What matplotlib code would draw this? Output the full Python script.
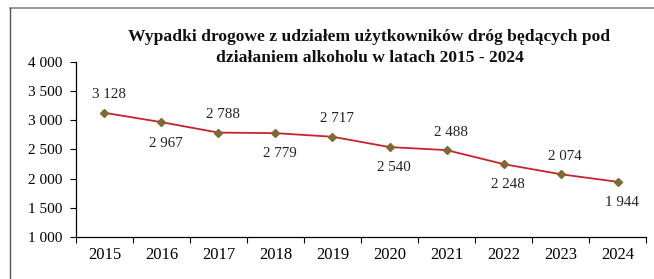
import matplotlib.pyplot as plt
from matplotlib.lines import Line2D
from matplotlib.ticker import FuncFormatter, FixedLocator

years = ['2015', '2016', '2017', '2018', '2019', '2020', '2021', '2022', '2023', '2024']
accidents = [3128, 2967, 2788, 2779, 2717, 2540, 2488, 2248, 2074, 1944]
y_ticks = [1000, 1500, 2000, 2500, 3000, 3500, 4000]

title = ('Wypadki drogowe z udziałem użytkowników dróg będących pod\n'
         'działaniem alkoholu w latach 2015 - 2024')


def fmt(v):
    return '{:,}'.format(int(v)).replace(',', ' ')


plt.rcParams['font.family'] = ['Liberation Serif', 'DejaVu Serif']

fig = plt.figure(figsize=(6.54, 2.79), dpi=100)
ax = fig.add_axes([0.116, 0.151, 0.872, 0.627])

x = list(range(len(years)))
ax.plot(x, accidents, color='#c8232c', lw=1.3, marker='D', markersize=4.5,
        markerfacecolor='#7d6b35', markeredgecolor='#7d6b35', zorder=3)

for i, v in enumerate(accidents):
    dy = 13 if i % 2 == 0 else -15
    ax.annotate(fmt(v), (i, v), xytext=(3, dy), textcoords='offset points',
                ha='center', va='center', fontsize=10.8, color='#222222')

ax.set_xlim(-0.5, len(years) - 0.5)
ax.set_ylim(1000, 4000)
ax.set_yticks(y_ticks)
ax.yaxis.set_major_formatter(FuncFormatter(lambda v, p: fmt(v)))
ax.set_xticks(x)
ax.set_xticklabels(years)
ax.xaxis.set_minor_locator(FixedLocator([i - 0.5 for i in range(len(years) + 1)]))
ax.tick_params(axis='x', which='major', length=0, pad=7, labelsize=12)
ax.tick_params(axis='x', which='minor', length=4, direction='out', width=0.8)
ax.tick_params(axis='y', length=4, width=0.8, labelsize=11, pad=6)

for s in ['top', 'right']:
    ax.spines[s].set_visible(False)
ax.spines['left'].set_linewidth(0.9)
ax.spines['bottom'].set_linewidth(0.9)

fig.text(0.565, 0.83, title, ha='center', va='center', fontsize=12.6,
         fontweight='bold', linespacing=1.38, color='#111111')

# outer frame (only top and left visible in the crop)
fig.add_artist(Line2D([0.015, 1.0], [0.972, 0.972], color='#888888', lw=1.2,
                      transform=fig.transFigure))
fig.add_artist(Line2D([0.016, 0.016], [0.0, 0.972], color='#555555', lw=1.0,
                      transform=fig.transFigure))

plt.savefig('out.png', dpi=100)
plt.close()
